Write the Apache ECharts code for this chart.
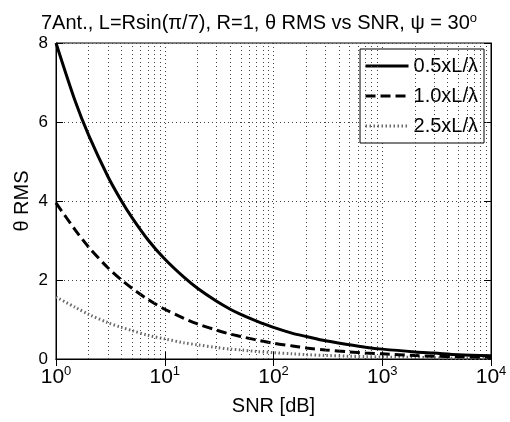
<!DOCTYPE html>
<html><head><meta charset="utf-8">
<script src="https://cdn.jsdelivr.net/npm/echarts@6/dist/echarts.min.js"></script>
<style>html,body{margin:0;padding:0;background:#fff}#c{width:510px;height:422px}</style>
</head><body><div id="c"></div>
<script>
const snr = [1, 1.5, 2, 3, 4, 5, 7, 10, 15, 20, 30, 40, 50, 70, 100, 150, 200, 300, 500, 700, 1000, 2000, 3000, 5000, 10000];
const rms05 = [8.00, 6.53, 5.66, 4.62, 4.00, 3.58, 3.02, 2.53, 2.07, 1.79, 1.46, 1.26, 1.13, 0.96, 0.80, 0.65, 0.57, 0.46, 0.36, 0.30, 0.25, 0.18, 0.15, 0.11, 0.08];
const rms10 = [3.95, 3.27, 2.83, 2.31, 2.00, 1.79, 1.51, 1.26, 1.03, 0.89, 0.73, 0.63, 0.57, 0.48, 0.40, 0.33, 0.28, 0.23, 0.18, 0.15, 0.13, 0.09, 0.07, 0.06, 0.04];
const rms25 = [1.57, 1.31, 1.13, 0.92, 0.80, 0.72, 0.60, 0.51, 0.41, 0.36, 0.29, 0.25, 0.23, 0.19, 0.16, 0.13, 0.11, 0.09, 0.07, 0.06, 0.05, 0.04, 0.03, 0.02, 0.02];
const seriesNames = ['0.5xL/λ', '1.0xL/λ', '2.5xL/λ'];
const minorGridX = [2,3,4,5,6,7,8,9,20,30,40,50,60,70,80,90,200,300,400,500,600,700,800,900,2000,3000,4000,5000,6000,7000,8000,9000];
const yTicks = [0, 2, 4, 6, 8];

const FONT = 'Liberation Sans, Arial, sans-serif';
const pairs = a => snr.map((x, i) => [x, a[i]]);
const gridDot = { color: '#444', width: 1, type: [1, 3] };

const chart = echarts.init(document.getElementById('c'), null, { renderer: 'canvas' });
chart.setOption({
  animation: false,
  backgroundColor: '#fff',
  title: {
    text: '7Ant., L=Rsin(π/7), R=1, θ RMS vs SNR, ψ = 30{sup|o}',
    left: 36, top: 7,
    textStyle: {
      fontFamily: FONT, fontSize: 20, fontWeight: 'normal', color: '#000',
      rich: { sup: { fontFamily: FONT, fontSize: 13, color: '#000', padding: [0, 0, 10, 0], verticalAlign: 'bottom' } }
    }
  },
  grid: { left: 56, right: 19, top: 43, bottom: 63, show: true, borderColor: '#000', borderWidth: 1, backgroundColor: '#fff' },
  legend: {
    orient: 'vertical', right: 26, top: 49,
    data: seriesNames,
    itemWidth: 43, itemHeight: 14, itemGap: 10,
    padding: [7, 6, 7, 4],
    borderColor: '#000', borderWidth: 1, backgroundColor: '#fff',
    itemStyle: { opacity: 0 },
    lineStyle: { width: 3 },
    textStyle: { fontFamily: FONT, fontSize: 20, color: '#000' }
  },
  xAxis: [{
    type: 'log', logBase: 10, min: 1, max: 10000,
    name: 'SNR [dB]', nameLocation: 'middle', nameGap: 37, nameMoveOverlap: false,
    nameTextStyle: { fontFamily: FONT, fontSize: 20, color: '#000' },
    axisLine: { show: true, lineStyle: { color: '#000', width: 1 } },
    axisTick: { show: true, inside: true, length: 7, lineStyle: { color: '#000' } },
    axisLabel: {
      margin: 6, color: '#000', fontFamily: FONT, fontSize: 21,
      formatter: v => '10{sup|' + Math.round(Math.log10(v)) + '}',
      rich: { sup: { fontFamily: FONT, fontSize: 13, color: '#000', padding: [0, 0, 12, 0], verticalAlign: 'bottom' } }
    },
    splitLine: { show: true, lineStyle: gridDot },
    minorTick: { show: false }, minorSplitLine: { show: false }
  }, {
    type: 'log', logBase: 10, min: 1, max: 10000, position: 'top',
    axisLine: { show: true, lineStyle: { color: '#000', width: 1 } },
    axisTick: { show: true, inside: true, length: 7, lineStyle: { color: '#000' } },
    axisLabel: { show: false }, splitLine: { show: false }
  }],
  yAxis: [{
    type: 'value', min: 0, max: 8, interval: 2,
    name: 'θ RMS', nameLocation: 'middle', nameGap: 24, nameRotate: 90, nameMoveOverlap: false,
    nameTextStyle: { fontFamily: FONT, fontSize: 20, color: '#000' },
    axisLine: { show: true, lineStyle: { color: '#000', width: 1 } },
    axisTick: { show: true, inside: true, length: 7, lineStyle: { color: '#000' } },
    axisLabel: { margin: 8, color: '#000', fontFamily: FONT, fontSize: 17,
      formatter: v => yTicks.includes(v) ? String(v) : '' },
    splitLine: { show: true, lineStyle: gridDot }
  }, {
    type: 'value', min: 0, max: 8, interval: 2, position: 'right',
    axisLine: { show: true, lineStyle: { color: '#000', width: 1 } },
    axisTick: { show: true, inside: true, length: 7, lineStyle: { color: '#000' } },
    axisLabel: { show: false }, splitLine: { show: false }
  }],
  series: [{
    name: seriesNames[0], type: 'line', data: pairs(rms05), symbol: 'none', smooth: 0.3,
    lineStyle: { color: '#000', width: 3, type: 'solid' }, itemStyle: { color: '#000' }, z: 5,
    markLine: {
      silent: true, symbol: ['none', 'none'], label: { show: false }, animation: false,
      lineStyle: gridDot, emphasis: { disabled: true },
      data: minorGridX.map(v => ({ xAxis: v }))
    }
  }, {
    name: seriesNames[1], type: 'line', data: pairs(rms10), symbol: 'none', smooth: 0.3,
    lineStyle: { color: '#000', width: 3, type: [10, 5] }, itemStyle: { color: '#000' }, z: 4
  }, {
    name: seriesNames[2], type: 'line', data: pairs(rms25), symbol: 'none', smooth: 0.3,
    lineStyle: { color: '#6a6a6a', width: 3, type: [1.5, 2.5] }, itemStyle: { color: '#6a6a6a' }, z: 3
  }]
});
</script></body></html>
